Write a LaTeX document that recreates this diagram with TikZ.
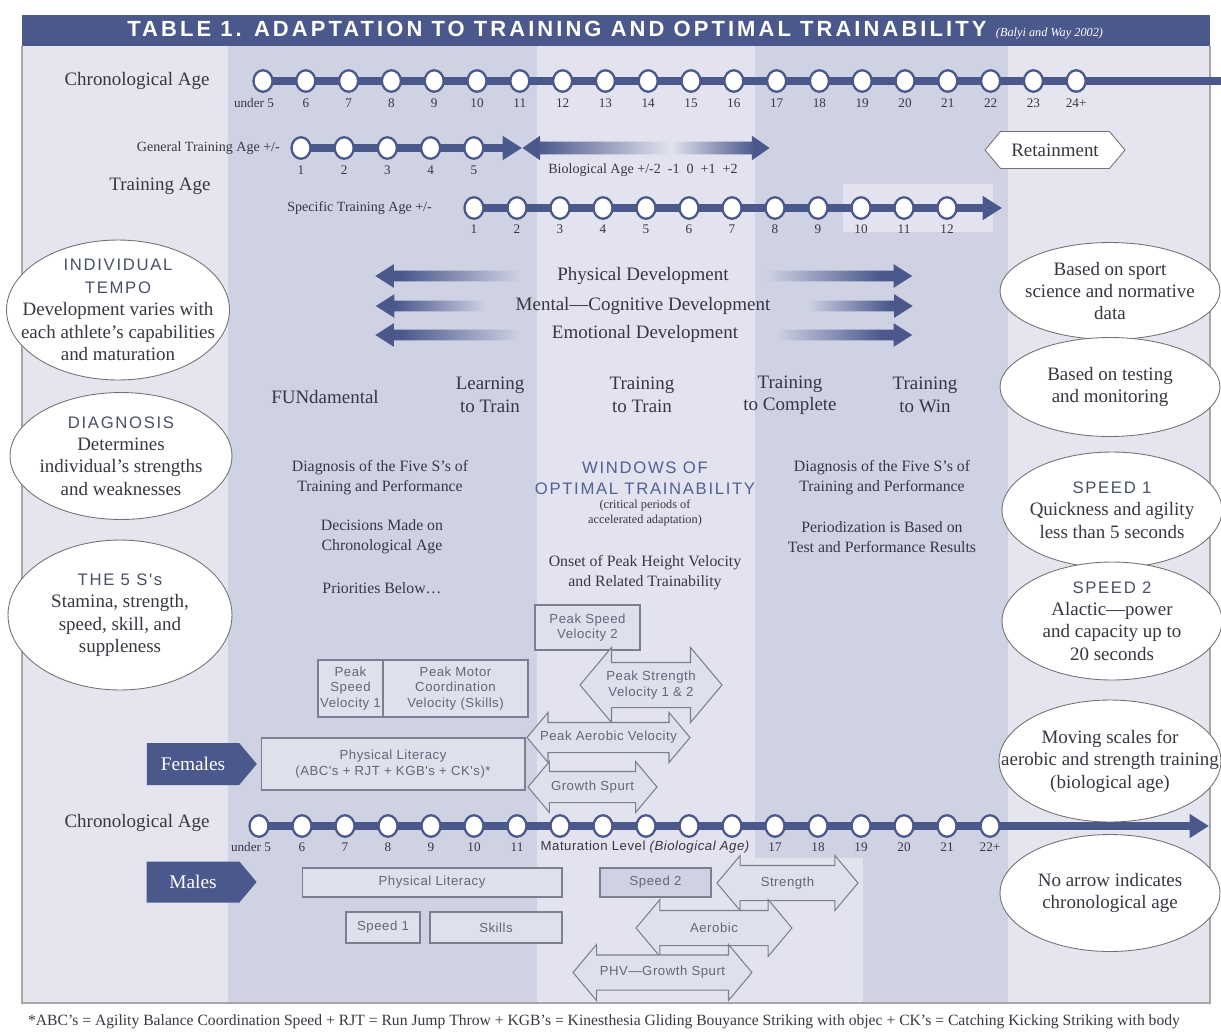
\documentclass[tikz,border=0pt]{standalone}
\usepackage{fontspec}
\setmainfont{Liberation Serif}
\setsansfont{Liberation Sans}
\newfontfamily\capsfont[LetterSpace=10]{Liberation Sans}
\newfontfamily\boxfont[LetterSpace=4]{Liberation Sans}
\newfontfamily\titlefont[LetterSpace=14]{Liberation Sans}
\usetikzlibrary{shapes.geometric, shapes.arrows, shapes.symbols, arrows.meta, positioning}
\definecolor{headerblue}{RGB}{74,88,140}
\definecolor{bandlight}{RGB}{229,229,240}
\definecolor{banddark}{RGB}{207,210,227}
\definecolor{bandmid}{RGB}{226,227,238}
\definecolor{boxline}{RGB}{125,127,145}
\definecolor{boxtext}{RGB}{100,102,122}
\definecolor{boxfill}{RGB}{222,224,236}
\definecolor{capsblue}{RGB}{80,95,150}
\definecolor{capsslate}{RGB}{72,80,105}
\definecolor{inkgray}{RGB}{55,55,65}
\pgfdeclarehorizontalshading{fadeleft}{100bp}{color(0bp)=(headerblue); color(34bp)=(headerblue); color(75bp)=(banddark); color(100bp)=(banddark)}
\pgfdeclarehorizontalshading{faderight}{100bp}{color(0bp)=(banddark); color(25bp)=(banddark); color(64bp)=(headerblue); color(100bp)=(headerblue)}
\pgfdeclarehorizontalshading{fadeboth}{100bp}{color(0bp)=(headerblue); color(28bp)=(headerblue); color(55bp)=(bandmid); color(72bp)=(headerblue); color(100bp)=(headerblue)}
\newcommand{\capsline}{\capsfont\fontsize{9.5}{12}\selectfont\color{capsslate}}

\begin{document}
\begin{tikzpicture}[x=0.02cm, y=-0.02cm, font=\fontsize{10.8}{12.8}\selectfont, text=inkgray,
    dot/.style={ellipse, draw=headerblue, line width=1.3pt, fill=white,
        minimum width=0.38cm, minimum height=0.43cm, inner sep=0},
    num/.style={font=\fontsize{7.5}{9}\selectfont},
    small/.style={font=\fontsize{8}{10}\selectfont},
    track/.style={draw=headerblue, line width=5pt},
    tip/.style={-{Triangle[length=11pt,width=13pt]}},
    bubble/.style={ellipse, draw=black!55, fill=white, line width=0.5pt, inner sep=0},
    mid/.style={font=\fontsize{9}{11.3}\selectfont, align=center},
    gbox/.style={draw=boxline, fill=boxfill, line width=0.6pt, inner sep=0, align=center,
        font=\boxfont\fontsize{7.5}{9}\selectfont, text=boxtext},
    dbl/.style={double arrow, draw=boxline, fill=boxfill, line width=0.6pt, inner xsep=0,
        double arrow tip angle=100},
    boxlabel/.style={align=center, font=\boxfont\fontsize{7.5}{9}\selectfont, text=boxtext},
    sex/.style={signal, signal to=east, signal pointer angle=100, fill=headerblue, text=white,
        inner sep=0, minimum width=2.2cm, font=\fontsize{11}{13}\selectfont},
    devl/.style={single arrow, shape border rotate=180, single arrow tip angle=65,
        single arrow head extend=0.13cm, inner xsep=0, inner ysep=0.1cm, shading=fadeleft},
    devr/.style={single arrow, single arrow tip angle=65,
        single arrow head extend=0.13cm, inner xsep=0, inner ysep=0.1cm, shading=faderight}
]
\useasboundingbox (0,0) rectangle (1221,1035);
% column bands
\fill[bandlight] (22,46) rectangle (1210,1003);
\fill[banddark] (228,46) rectangle (537,1003);
\fill[bandmid] (537,46) rectangle (755,1003);
\fill[banddark] (755,46) rectangle (1008,1003);
\fill[bandmid] (843,184) rectangle (993,232);
\fill[bandmid] (755,858) rectangle (863,1003);
\draw[black!35, line width=0.6pt] (22,46) -- (22,1003) -- (1210,1003) -- (1210,46);
% title bar
\node[fill=headerblue, minimum width=23.76cm, minimum height=0.62cm, inner sep=0] (bar) at (616,30.5) {};
\node[font=\titlefont\bfseries\fontsize{12.5}{14}\selectfont, text=white, anchor=base west, inner sep=0] (title) at (127,36) {TABLE 1. ADAPTATION TO TRAINING AND OPTIMAL TRAINABILITY};
\node[font=\fontsize{7}{8}\selectfont\itshape, text=white, anchor=base west, inner sep=0] (cite) at ([xshift=5pt]title.base east) {(Balyi and Way 2002)};

% chronological age, top
\node (chrono1) at (137,81) {Chronological Age};
\coordinate (ca-start) at (263,81);
\coordinate (ca-end) at (1221,81);
\draw[track] (ca-start) -- (ca-end);
\foreach \lab [count=\i from 0] in {,6,7,8,9,10,11,12,13,14,15,16,17,18,19,20,21,22,23,24+} {
    \node[dot] (ca\i) at ({263+42.8*\i},81) {};
    \node[num] at ({263+42.8*\i},103) {\lab};
}
\node[num] (under1) at (254,103) {under 5};

% training age
\node[small, anchor=east] (gta) at (286,148) {General Training Age +/-};
\coordinate (ga-start) at (301,148);
\coordinate (ga-end) at (522,148);
\draw[track, tip] (ga-start) -- (ga-end);
\foreach \i in {1,...,5} {
    \node[dot] (ga\i) at ({301+43.2*(\i-1)},148) {};
    \node[num] at ({301+43.2*(\i-1)},170) {\i};
}
\node[double arrow, double arrow tip angle=70, double arrow head extend=0.12cm,
    inner xsep=0, inner ysep=0.12cm, minimum height=4.94cm, shading=fadeboth] (bio) at (646,148) {};
\node[small] (biolab) at (643,170) {Biological Age +/-2 \ -1 \ 0 \ +1 \ +2};
\node (tage) at (160,186) {Training Age};
\node[small, anchor=east] (sta) at (438,208) {Specific Training Age +/-};
\coordinate (sa-start) at (474,208);
\coordinate (sa-end) at (1002,208);
\draw[track, tip] (sa-start) -- (sa-end);
\foreach \i in {1,...,12} {
    \node[dot] (sa\i) at ({474+43*(\i-1)},208) {};
    \node[num] at ({474+43*(\i-1)},229) {\i};
}
\node[signal, signal to=east and west, signal pointer angle=100, draw=black!55, fill=white,
    line width=0.5pt, minimum width=2.8cm, minimum height=0.74cm] (retain) at (1055,150) {Retainment};

% development arrows
\node[devl, minimum height=2.9cm] (phys-l) at (452,276) {};
\node[devl, minimum height=2.2cm] (ment-l) at (435,306) {};
\node[devl, minimum height=2.9cm] (emo-l) at (452,335) {};
\node[devr, minimum height=2.92cm] (phys-r) at (835,276) {};
\node[devr, minimum height=2.1cm] (ment-r) at (856,306) {};
\node[devr, minimum height=2.72cm] (emo-r) at (840,335) {};
\node (phys) at (643,276) {Physical Development};
\node (ment) at (643,306) {Mental---Cognitive Development};
\node (emo) at (645,334) {Emotional Development};

% stages
\node (fund) at (325,397) {FUNdamental};
\node[align=center] (l2t) at (490,395) {Learning\\to Train};
\node[align=center] (t2t) at (642,395) {Training\\to Train};
\node[align=center] (t2c) at (790,395) {Training\\to Complete};
\node[align=center] (t2w) at (925,395) {Training\\to Win};

% left bubbles
\node[bubble, minimum width=4.46cm, minimum height=2.8cm] (tempo) at (118,310) {};
\node[align=center] at (tempo) {{\capsline INDIVIDUAL}\\{\capsline TEMPO}\\Development varies with\\each athlete's capabilities\\and maturation};
\node[bubble, minimum width=4.44cm, minimum height=2.54cm] (diag) at (121,456) {};
\node[align=center] at (diag) {{\capsline DIAGNOSIS}\\Determines\\individual's strengths\\and weaknesses};
\node[bubble, minimum width=4.48cm, minimum height=3.0cm] (fives) at (120,615) {};
\node[align=center] at (fives) {{\capsline THE 5 S's}\\Stamina, strength,\\speed, skill, and\\suppleness};

% right bubbles
\node[bubble, minimum width=4.4cm, minimum height=1.94cm] (norm) at (1110,291) {};
\node[align=center] at (norm) {Based on sport\\science and normative\\data};
\node[bubble, minimum width=4.4cm, minimum height=1.98cm] (test) at (1110,387) {};
\node[align=center] at (test) {Based on testing\\and monitoring};
\node[bubble, minimum width=4.4cm, minimum height=2.32cm] (sp1) at (1112,510) {};
\node[align=center] at (sp1) {{\capsline SPEED 1}\\Quickness and agility\\less than 5 seconds};
\node[bubble, minimum width=4.4cm, minimum height=2.36cm] (sp2) at (1112,621) {};
\node[align=center] at (sp2) {{\capsline SPEED 2}\\Alactic---power\\and capacity up to\\20 seconds};
\node[bubble, minimum width=4.44cm, minimum height=2.44cm] (scales) at (1110,761) {};
\node[align=center] at (scales) {Moving scales for\\aerobic and strength training\\(biological age)};
\node[bubble, minimum width=4.4cm, minimum height=2.34cm] (noarrow) at (1110,893) {};
\node[align=center] at (noarrow) {No arrow indicates\\chronological age};

% middle texts
\node[mid] (diag-l) at (380,478) {Diagnosis of the Five S's of\\Training and Performance};
\node[mid] (dec) at (382,537) {Decisions Made on\\Chronological Age};
\node[mid] (prio) at (382,588) {Priorities Below\ldots};
\node[align=center, font=\capsfont\fontsize{9.5}{12}\selectfont, text=capsblue] (win) at (645,478) {WINDOWS OF\\OPTIMAL TRAINABILITY};
\node[mid, font=\fontsize{7}{8.5}\selectfont] (crit) at (645,513) {(critical periods of\\accelerated adaptation)};
\node[mid] (onset) at (645,573) {Onset of Peak Height Velocity\\and Related Trainability};
\node[mid] (diag-r) at (882,478) {Diagnosis of the Five S's of\\Training and Performance};
\node[mid] (period) at (882,537) {Periodization is Based on\\Test and Performance Results};

% females
\node[gbox, minimum width=2.1cm, minimum height=0.9cm] (psv2) at (587.5,627.5) {Peak Speed\\Velocity 2};
\node[gbox, minimum width=1.3cm, minimum height=1.14cm] (psv1) at (350.5,688.5) {Peak\\Speed\\Velocity 1};
\node[gbox, minimum width=2.9cm, minimum height=1.14cm] (pmcv) at (455.5,688.5) {Peak Motor\\Coordination\\Velocity (Skills)};
\node[dbl, inner ysep=0.44cm, double arrow head extend=0.3cm, minimum height=2.84cm] (pstr) at (651,685) {};
\node[boxlabel] at (pstr) {Peak Strength\\Velocity 1 \& 2};
\node[dbl, inner ysep=0.29cm, double arrow head extend=0.2cm, minimum height=3.26cm] (paer) at (608.5,737.5) {};
\node[boxlabel] at (paer) {Peak Aerobic Velocity};
\node[gbox, minimum width=5.28cm, minimum height=1.04cm] (plitf) at (393,764) {Physical Literacy\\(ABC's + RJT + KGB's + CK's)*};
\node[dbl, inner ysep=0.3cm, double arrow head extend=0.2cm, minimum height=2.58cm] (grow) at (592.5,787) {};
\node[boxlabel] at (grow) {Growth Spurt};
\node[sex, minimum height=0.84cm] (fem) at (193,764) {Females};

% chronological age, bottom
\node (chrono2) at (137,823) {Chronological Age};
\coordinate (cb-start) at (259,826);
\coordinate (cb-end) at (1209,826);
\draw[track, tip] (cb-start) -- (cb-end);
\foreach \lab [count=\i from 0] in {,6,7,8,9,10,11,,,,,,17,18,19,20,21,22+} {
    \node[dot] (cb\i) at ({259+43*\i},826) {};
    \node[num] at ({259+43*\i},847) {\lab};
}
\node[num] (under2) at (251,847) {under 5};
\node[boxlabel, text=inkgray] (matur) at (645,847) {Maturation Level {\itshape (Biological Age)}};

% males
\node[sex, minimum height=0.82cm] (male) at (193,882) {Males};
\node[gbox, minimum width=5.2cm, minimum height=0.58cm] (plitm) at (432,882.5) {Physical Literacy};
\node[gbox, fill=banddark, minimum width=2.22cm, minimum height=0.58cm] (spd2) at (655.5,882.5) {Speed 2};
\node[dbl, inner ysep=0.34cm, double arrow head extend=0.2cm, minimum height=2.82cm] (strm) at (787.5,883) {};
\node[boxlabel] at (strm) {Strength};
\node[gbox, minimum width=1.48cm, minimum height=0.62cm] (spd1) at (383,927.5) {Speed 1};
\node[gbox, minimum width=2.64cm, minimum height=0.62cm] (skill) at (496,927.5) {Skills};
\node[dbl, inner ysep=0.34cm, double arrow head extend=0.22cm, minimum height=3.12cm] (aerm) at (714,928) {};
\node[boxlabel] at (aerm) {Aerobic};
\node[dbl, inner ysep=0.34cm, double arrow head extend=0.21cm, minimum height=3.58cm] (phv) at (662.5,972.5) {};
\node[boxlabel] at (phv) {PHV—Growth Spurt};

% footnote
\node[font=\fontsize{8.9}{10}\selectfont] (foot) at (604,1022) {*ABC's = Agility Balance Coordination Speed + RJT = Run Jump Throw + KGB's = Kinesthesia Gliding Bouyance Striking with objec + CK's = Catching Kicking Striking with body};
\end{tikzpicture}
\end{document}
